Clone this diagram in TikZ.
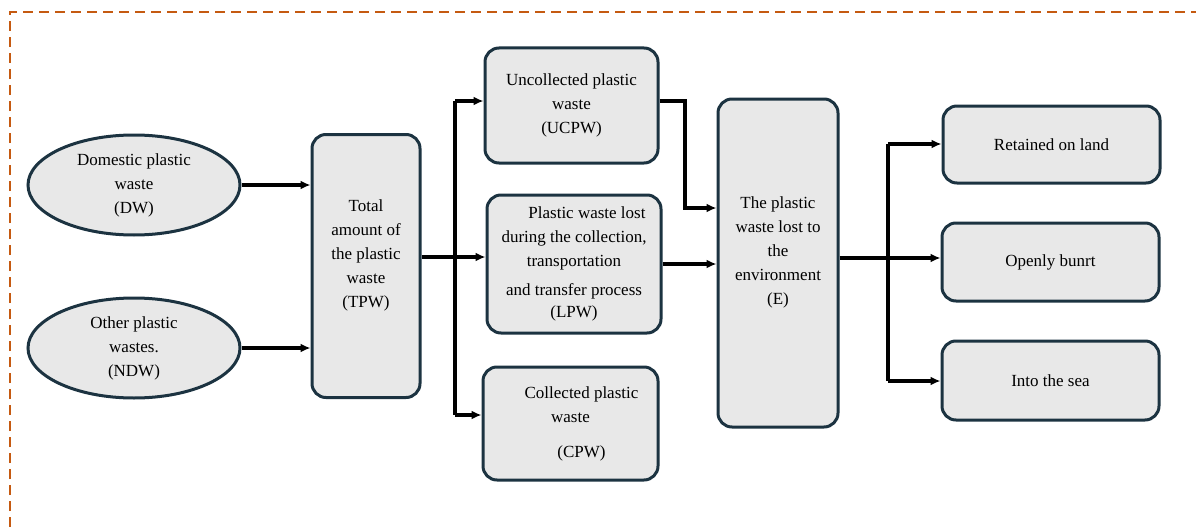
\documentclass[tikz,border=0pt]{standalone}
\usepackage{fontspec}
\setmainfont{Liberation Serif}
\usetikzlibrary{shapes.geometric,arrows.meta}
\definecolor{bord}{HTML}{C55A11}
\definecolor{edgec}{HTML}{1C3341}
\definecolor{boxfill}{HTML}{E8E8E8}
\begin{document}
\begin{tikzpicture}[x=1pt,y=-1pt,
  every node/.style={font=\rmfamily\fontsize{17}{24}\selectfont, align=center, inner sep=0pt},
  box/.style={draw=edgec, fill=boxfill, line width=3pt, rounded corners=14pt},
  oval/.style={ellipse, draw=edgec, fill=boxfill, line width=3pt},
  flow/.style={line width=3.2pt, -{Latex[length=10pt,width=9pt]}},
  link/.style={line width=3.2pt}
]
\useasboundingbox (0,0) rectangle (1196,527);
\draw[bord, line width=2.4pt, dash pattern=on 10pt off 6pt] (10,527) -- (10,12) -- (1196,12);

\node[oval, minimum width=212pt, minimum height=100pt] (dw) at (134,185) {Domestic plastic\\waste\\(DW)};
\node[oval, minimum width=212pt, minimum height=100pt] (ndw) at (134,348) {Other plastic\\wastes.\\(NDW)};
\node[box, minimum width=108pt, minimum height=263pt] (tpw) at (366,266) {Total\\amount of\\the plastic\\waste\\(TPW)\\ \mbox{}};

\node[box, minimum width=173pt, minimum height=115pt] (ucpw) at (571.5,105.5) {Uncollected plastic\\waste\\(UCPW)};
\node[box, minimum width=174pt, minimum height=138pt] (lpw) at (574,264) {\hspace*{26pt}Plastic waste lost\\during the collection,\\transportation\\[5pt]and transfer process\\[-2pt](LPW)};
\node[box, minimum width=175pt, minimum height=113pt] (cpw) at (570.5,423.5) {\hspace*{22pt}Collected plastic\\waste\\[11pt]\hspace*{22pt}(CPW)};

\node[box, minimum width=120pt, minimum height=328pt] (e) at (778,263) {The plastic\\waste lost to\\the\\environment\\(E)\\ \mbox{}};

\node[box, minimum width=217pt, minimum height=77pt] (ret) at (1051.5,144.5) {Retained on land};
\node[box, minimum width=217pt, minimum height=78pt] (open) at (1050.5,262) {Openly bunrt};
\node[box, minimum width=217pt, minimum height=79pt] (sea) at (1050.5,380.5) {Into the sea};

% inputs
\draw[flow] (dw.east) -- (tpw.west |- dw.east);
\draw[flow] (ndw.east) -- (tpw.west |- ndw.east);

% TPW branches
\coordinate (jt) at (455,101);
\coordinate (jm) at (455,257);
\coordinate (jb) at (455,415);
\draw[link] (jt) -- (jb);
\draw[flow] (tpw.east |- jm) -- (lpw.west |- jm);
\draw[flow] (jt) -- (ucpw.west |- jt);
\draw[flow] (jb) -- (cpw.west |- jb);

% to E
\coordinate (u1) at (685,101);
\coordinate (u2) at (685,208);
\draw[flow] (ucpw.east |- u1) -- (u1) -- (u2) -- (e.west |- u2);
\coordinate (l1) at (662,264);
\draw[flow] (lpw.east |- l1) -- (e.west |- l1);

% outputs
\coordinate (kt) at (888,144);
\coordinate (km) at (888,258);
\coordinate (kb) at (888,381);
\draw[link] (kt) -- (kb);
\draw[flow] (e.east |- km) -- (open.west |- km);
\draw[flow] (kt) -- (ret.west |- kt);
\draw[flow] (kb) -- (sea.west |- kb);
\end{tikzpicture}
\end{document}
